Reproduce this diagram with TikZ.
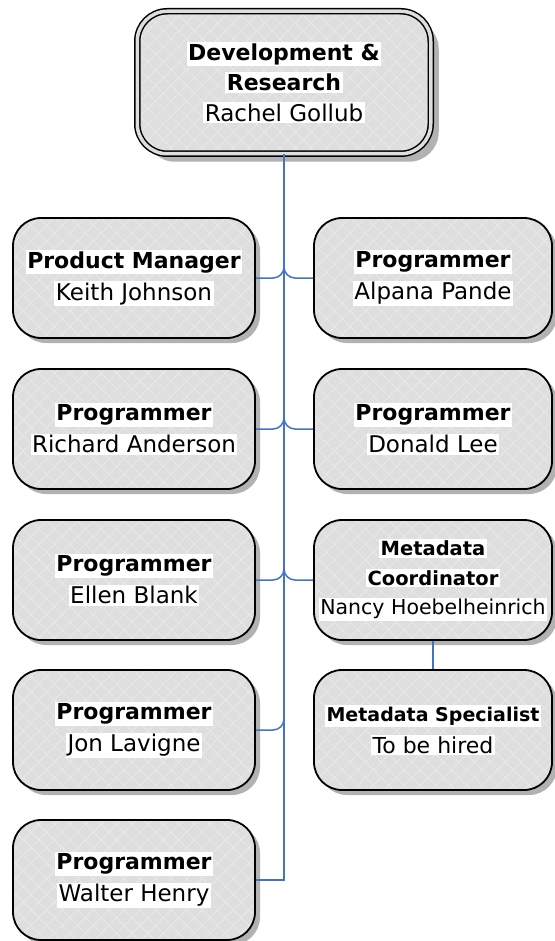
\documentclass[tikz,border=0pt]{standalone}
\usepackage{fontspec}
\setmainfont{DejaVu Sans}
\usetikzlibrary{shadows,patterns.meta}
\definecolor{connblue}{HTML}{4472C4}
\definecolor{boxfill}{HTML}{DEDEDE}
\definecolor{hatch}{HTML}{E9E9E9}
\newcommand\hlw[1]{{\setlength{\fboxsep}{1.5pt}\colorbox{white}{#1}}}
\newcommand\ttl[1]{{\bfseries\hlw{#1}}}
\newcommand\nm[1]{{\fontsize{23}{32}\selectfont\hlw{#1}}}
\tikzset{
  orgbox/.style={draw=black, line width=1.8pt, rounded corners=28pt,
    drop shadow={shadow xshift=5pt, shadow yshift=-5pt, fill=black!30, opacity=1},
    preaction={fill=boxfill},
    preaction={pattern={Lines[angle=45,distance=11pt,line width=0.8pt]}, pattern color=hatch},
    preaction={pattern={Lines[angle=-45,distance=11pt,line width=0.8pt]}, pattern color=hatch},
    minimum width=242pt, minimum height=120pt, align=center, inner sep=0pt,
    font=\fontsize{22}{32}\selectfont},
  rightbox/.style={orgbox, minimum width=238pt},
  topbox/.style={draw=black, line width=1.5pt, double=boxfill, double distance=3.5pt,
    rounded corners=30pt,
    drop shadow={shadow xshift=8pt, shadow yshift=-8pt, fill=black!30, opacity=1},
    preaction={fill=boxfill},
    preaction={pattern={Lines[angle=45,distance=11pt,line width=0.8pt]}, pattern color=hatch},
    preaction={pattern={Lines[angle=-45,distance=11pt,line width=0.8pt]}, pattern color=hatch},
    minimum width=293.5pt, minimum height=142.5pt, align=center, inner sep=0pt,
    font=\fontsize{22}{30.5}\selectfont},
  connline/.style={draw=connblue, line width=1.5pt},
  hop/.style={connline, rounded corners=11pt}
}
\begin{document}
\begin{tikzpicture}[x=1pt,y=-1pt]
\useasboundingbox (0,0) rectangle (554,941);
\fill[white] (0,0) rectangle (554,941);
% boxes
\node[topbox] (top) at (284,82.5) {\ttl{Development \&}\\\ttl{Research}\\{\fontsize{23}{30.5}\selectfont\hlw{Rachel Gollub}}};
\node[orgbox] (pm) at (134,278) {\ttl{Product Manager}\\\nm{Keith Johnson}};
\node[orgbox] (ra) at (134,429) {\ttl{Programmer}\\\nm{Richard Anderson}};
\node[orgbox] (eb) at (134,580) {\ttl{Programmer}\\\nm{Ellen Blank}};
\node[orgbox] (jl) at (134,730) {\ttl{Programmer}\\\nm{Jon Lavigne}};
\node[orgbox] (wh) at (134,880) {\ttl{Programmer}\\\nm{Walter Henry}};
\node[rightbox] (ap) at (433,278) {\ttl{Programmer}\\\nm{Alpana Pande}};
\node[rightbox] (dl) at (433,429) {\ttl{Programmer}\\\nm{Donald Lee}};
\node[rightbox, font=\fontsize{19.5}{29.5}\selectfont] (mc) at (433,580)
  {\ttl{Metadata}\\\ttl{Coordinator}\\{\fontsize{20.5}{29.5}\selectfont\hlw{Nancy Hoebelheinrich}}};
\node[rightbox, font=\fontsize{19}{32}\selectfont] (ms) at (433,730)
  {\ttl{Metadata Specialist}\\{\fontsize{22}{32}\selectfont\hlw{To be hired}}};
% connectors
\draw[connline] (top.south) |- (wh.east);
\draw[hop] (pm.east) -| (top.south);
\draw[hop] (ap.west) -| (top.south);
\draw[hop] (ra.east) -| (top.south);
\draw[hop] (dl.west) -| (top.south);
\draw[hop] (eb.east) -| (top.south);
\draw[hop] (mc.west) -| (top.south);
\draw[hop] (jl.east) -| (top.south);
\draw[connline] (mc.south) -- (ms.north);
\end{tikzpicture}
\end{document}
